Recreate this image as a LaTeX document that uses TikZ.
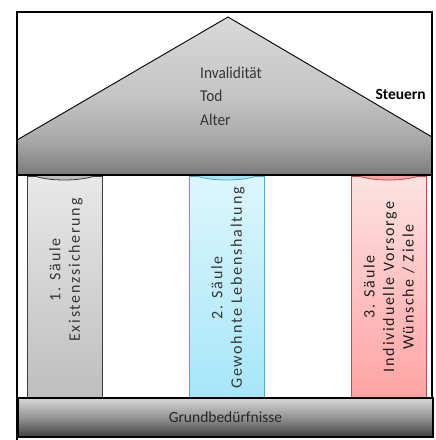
\documentclass[tikz,border=0pt]{standalone}
\usepackage{fontspec}
\setmainfont{Carlito}
\newfontfamily\spacedfont{Carlito}[LetterSpace=11]
\definecolor{rooftop}{gray}{0.85}
\definecolor{roofmid}{gray}{0.77}
\definecolor{roofeave}{gray}{0.66}
\definecolor{roofbot}{gray}{0.48}
\definecolor{gtop}{gray}{0.84}
\definecolor{gmid}{gray}{0.58}
\definecolor{gbot}{gray}{0.25}
\definecolor{ponetop}{HTML}{E8E8E8}
\definecolor{ponebot}{HTML}{BEBEBE}
\definecolor{ponebd}{HTML}{3C3C3C}
\definecolor{ptwotop}{HTML}{DDF6FD}
\definecolor{ptwobot}{HTML}{A6E6F8}
\definecolor{ptwobd}{HTML}{4BACC6}
\definecolor{pthreetop}{HTML}{FDE2E2}
\definecolor{pthreebot}{HTML}{FFA3A3}
\definecolor{pthreebd}{HTML}{C0504D}
\definecolor{txtgray}{HTML}{363636}
\pgfdeclareverticalshading{roofsh}{100bp}{color(0bp)=(roofbot); color(25bp)=(roofbot); color(36bp)=(roofeave); color(50bp)=(roofmid); color(75bp)=(rooftop); color(100bp)=(rooftop)}
\pgfdeclareverticalshading{groundsh}{100bp}{color(0bp)=(gbot); color(25bp)=(gbot); color(50bp)=(gmid); color(75bp)=(gtop); color(100bp)=(gtop)}
\tikzset{
  pillar/.style={rectangle, inner sep=0pt, minimum width=75pt, minimum height=221pt, anchor=north west, line width=0.8pt},
  pillartext/.style={rotate=90, align=center, font=\spacedfont\fontsize{16}{19.5}\selectfont, inner sep=0pt},
  rooftext/.style={anchor=base west, font=\fontsize{16.5}{19}\selectfont, text=txtgray, inner sep=0pt, xscale=0.93, transform shape},
  frameline/.style={line width=2pt, black}
}
\begin{document}
\begin{tikzpicture}[x=1pt,y=-1pt]
\useasboundingbox (0,0) rectangle (436,440);
\fill[white] (0,0) rectangle (436,440);
% pillars
\node (p1) [pillar, draw=ponebd, top color=ponetop, bottom color=ponebot] at (27,176) {};
\node (p2) [pillar, draw=ptwobd, top color=ptwotop, bottom color=ptwobot] at (189,176) {};
\node (p3) [pillar, draw=pthreebd, top color=pthreetop, bottom color=pthreebot] at (351,176) {};
\draw[ponebd, fill=ponebot, line width=0.8pt] (64.5,170) ellipse [x radius=37.5, y radius=10];
\draw[ptwobd, fill=ptwobot, line width=0.8pt] (226.5,170) ellipse [x radius=37.5, y radius=10];
\draw[pthreebd, fill=pthreebot, line width=0.8pt] (388.5,170) ellipse [x radius=37.5, y radius=10];
\node (t1) [pillartext, text=txtgray] at (66,270) {1. Säule\\Existenzsicherung};
\node (t2) [pillartext, text=txtgray] at (228,288) {2. Säule\\Gewohnte Lebenshaltung};
\node (t3) [pillartext, text=black!88] at (389,287) {3. Säule\\Individuelle Vorsorge\\Wünsche / Ziele};
% roof
\shade[shading=roofsh, draw=black, line width=0.9pt] (17,140) -- (228,17) -- (432,137) -- (432,175) -- (17,175) -- cycle;
\draw[frameline] (17,175) -- (432,175);
\node (r1) [rooftext] at (200,78) {Invalidität};
\node (r2) [rooftext] at (200,101.5) {Tod};
\node (r3) [rooftext] at (200,125) {Alter};
\node (st) [anchor=base east, font=\bfseries\fontsize{15.5}{18}\selectfont, inner sep=0pt] at (426,99) {Steuern};
% frame
\draw[frameline] (17,440) -- (17,12) -- (432,12) -- (432,437);
% ground
\node (ground) [rectangle, draw=black, line width=2pt, shade, shading=groundsh, minimum width=415pt, minimum height=39pt, anchor=north west, inner sep=0pt, font=\fontsize{15.5}{18}\selectfont, text=black!85] at (17,397) {Grundbedürfnisse};
\end{tikzpicture}
\end{document}
